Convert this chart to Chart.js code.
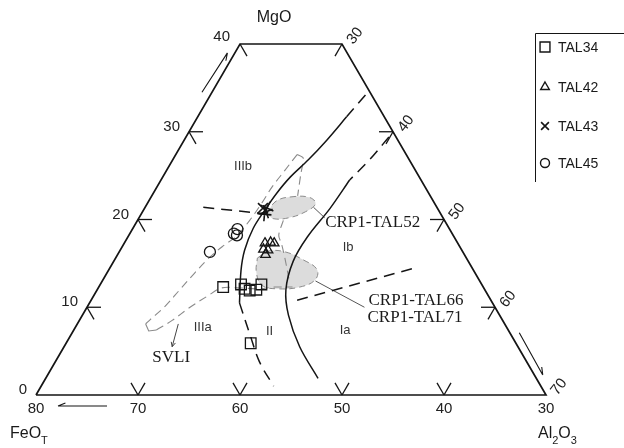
<!DOCTYPE html>
<html>
<head>
<meta charset="utf-8">
<script src="https://cdn.jsdelivr.net/npm/chart.js@4/dist/chart.umd.min.js"></script>
<style>
  html, body { margin: 0; padding: 0; background: #fff; }
  canvas { display: block; }
</style>
</head>
<body>
<canvas id="c" width="624" height="448"></canvas>
<script>
// Compositions are [FeOT, MgO, Al2O3] (wt%, normalised to 100 before plotting)

// Samples
const TAL34 = [[55.5, 12.3, 32.2], [53.6, 12.6, 33.8], [53.5, 12.1, 34.4], [53.1, 11.9, 35.0],
               [52.4, 12.0, 35.6], [51.6, 12.6, 35.8], [56.0, 5.9, 38.1]];
const TAL42 = [[48.9, 17.3, 33.8], [48.3, 17.4, 34.3], [48.0, 17.3, 34.7], [49.4, 16.6, 34.0],
               [49.0, 16.5, 34.5], [49.5, 16.0, 34.5]];
const TAL43 = [[47.1, 21.3, 31.6], [47.0, 20.9, 32.1], [47.3, 20.6, 32.1], [46.7, 21.3, 32.0]];
const TAL45 = [[50.8, 18.9, 30.3], [51.4, 18.4, 30.2], [51.2, 18.2, 30.6], [54.8, 16.3, 28.9]];

// Diagram frame (MgO 0-40, Al2O3 >= 20, FeOT >= 30)
const frame = [[80, 0, 20], [30, 0, 70], [30, 40, 30], [40, 40, 20], [80, 0, 20]];

// Axis tick values
const mgoTicks = [0, 10, 20, 30, 40];
const feoTicks = [80, 70, 60, 50, 40, 30];
const alTicks = [30, 40, 50, 60, 70];

// Field boundaries (solid and dashed black)
const boundaryAUpper = [[30.6, 34.2, 35.2], [33.7, 31.7, 34.6]];
const boundaryA = [[33.7, 31.7, 34.6], [36.9, 29.1, 34.0], [39.9, 26.8, 33.3], [42.7, 24.8, 32.5],
                   [44.9, 23.0, 32.1], [47.0, 21.1, 31.9], [49.2, 19.0, 31.8], [51.3, 16.5, 32.2],
                   [52.8, 14.2, 33.0], [54.8, 10.5, 34.7]];
const boundaryII = [[54.8, 10.5, 34.7], [55.6, 6.8, 37.6], [56.2, 3.8, 40.0], [56.2, 1.0, 42.8]];
const boundaryBUpper = [[30.7, 29.4, 39.9], [33.9, 26.8, 39.3], [37.0, 24.5, 38.5]];
const boundaryB = [[37.0, 24.5, 38.5], [40.5, 21.3, 38.2], [44.4, 18.0, 37.6], [47.2, 15.2, 37.6],
                   [49.5, 12.0, 38.5], [50.7, 9.1, 40.2], [51.4, 5.5, 43.1], [51.4, 1.9, 46.7]];
const boundaryIIIb = [[52.9, 21.4, 25.7], [46.9, 20.6, 32.5]];
const boundaryIab = [[49.0, 10.8, 40.2], [35.9, 14.4, 49.7]];

// SVLI and related fields (grey dashed)
const svliUpper = [[40.7, 27.4, 31.9], [42.8, 25.6, 31.6], [44.9, 23.8, 31.3], [46.9, 21.9, 31.2],
                   [49.1, 19.9, 31.0], [51.3, 18.1, 30.6], [53.3, 16.9, 29.8], [55.4, 15.5, 29.1],
                   [57.5, 13.9, 28.6], [59.9, 12.0, 28.1], [62.3, 10.1, 27.6], [64.5, 8.6, 26.9],
                   [65.2, 8.1, 26.7]];
const svliHook = [[65.2, 8.1, 26.7], [65.3, 7.3, 27.4], [64.5, 7.4, 28.1]];
const svliLower = [[64.5, 7.4, 28.1], [62.4, 8.5, 29.1], [59.9, 10.0, 30.1], [57.5, 11.3, 31.2],
                   [55.7, 12.2, 32.1], [53.9, 12.2, 33.9], [52.2, 12.1, 35.7], [50.4, 12.3, 37.3],
                   [48.7, 12.3, 39.0]];
const bracketIIIb = [[40.7, 27.4, 31.9], [40.3, 27.0, 32.7], [41.5, 25.1, 33.4], [43.0, 22.7, 34.3]];
const divideII = [[45.8, 19.9, 34.3], [47.1, 18.2, 34.7], [47.3, 17.3, 35.4], [47.8, 15.6, 36.6],
                  [48.7, 12.9, 38.4]];

// Reference compositions (shaded)
const fieldTAL52 = [[47.0, 20.7, 32.3], [45.4, 22.1, 32.5], [43.5, 22.6, 33.9], [41.9, 22.5, 35.6],
                    [41.7, 21.8, 36.5], [43.1, 20.9, 36.0], [45.1, 20.2, 34.7], [46.7, 20.1, 33.2],
                    [47.0, 20.7, 32.3]];
const fieldTAL66 = [[50.5, 15.6, 33.9], [49.0, 16.4, 34.6], [47.4, 16.3, 36.3], [46.1, 15.4, 38.5],
                    [45.3, 14.3, 40.4], [46.1, 13.1, 40.8], [48.0, 12.3, 39.7], [50.2, 12.1, 37.7],
                    [51.6, 12.5, 35.9], [51.4, 14.0, 34.6], [50.5, 15.6, 33.9]];
const leader52 = [[42.1, 21.4, 36.5], [41.6, 20.2, 38.2]];
const leader66 = [[46.1, 13.0, 40.9], [42.8, 10.0, 47.2]];
const svliArrow = [[62.0, 8.1, 29.9], [63.9, 5.5, 30.6]];

// ternary -> cartesian (x along the FeOT-Al2O3 base, y up towards MgO)
const SQ3 = Math.sqrt(3) / 2;
function tern(c) {
  const s = c[0] + c[1] + c[2];
  const mg = c[1] * 100 / s, al = c[2] * 100 / s;
  return { x: al + mg / 2, y: mg * SQ3 };
}

const INK = '#151515';
const GREY = '#8a8a8a';

function path(pts, o) {
  return Object.assign({
    data: pts.map(tern), showLine: true, pointRadius: 0, pointHoverRadius: 0,
    borderColor: INK, borderWidth: 1.5, tension: 0.35, fill: false, clip: false, order: 5
  }, o);
}
function samples(label, pts, o) {
  return Object.assign({
    label, data: pts.map(tern), showLine: false, borderColor: INK,
    backgroundColor: 'rgba(0,0,0,0)', pointBorderWidth: 1.3, clip: false, order: 0
  }, o);
}

const FONT_SANS = '"Liberation Sans", Arial, sans-serif';
const FONT_SERIF = '"Liberation Serif", "Times New Roman", serif';

const fieldLabels = [
  { t: 'IIIb', c: [46.7, 26.0, 27.3] },
  { t: 'Ib', c: [41.0, 16.8, 42.2] },
  { t: 'IIIa', c: [59.8, 7.7, 32.5] },
  { t: 'II', c: [53.5, 7.2, 39.3] },
  { t: 'Ia', c: [46.0, 7.4, 46.6] }
];
const refLabels = [
  { t: 'SVLI', c: [64.6, 4.3, 31.1], align: 'center' },
  { t: 'CRP1-TAL52', c: [41.8, 19.7, 38.5], align: 'left' },
  { t: 'CRP1-TAL66', c: [42.0, 10.8, 47.2], align: 'left' },
  { t: 'CRP1-TAL71', c: [43.1, 8.8, 48.1], align: 'left' }
];

function halfArrow(ctx, x1, y1, x2, y2, side, len) {
  const a = Math.atan2(y2 - y1, x2 - x1) + Math.PI;
  ctx.beginPath();
  ctx.moveTo(x1, y1); ctx.lineTo(x2, y2);
  ctx.moveTo(x2, y2);
  ctx.lineTo(x2 + len * Math.cos(a + side * 0.38), y2 + len * Math.sin(a + side * 0.38));
  ctx.stroke();
}

function marker(ctx, style, x, y, r) {
  ctx.beginPath();
  if (style === 'rect') {
    const h = r * Math.SQRT1_2; ctx.rect(x - h, y - h, 2 * h, 2 * h);
  } else if (style === 'triangle') {
    ctx.moveTo(x, y - r); ctx.lineTo(x + r * SQ3, y + r / 2); ctx.lineTo(x - r * SQ3, y + r / 2); ctx.closePath();
  } else if (style === 'circle') {
    ctx.arc(x, y, r, 0, Math.PI * 2);
  } else {
    const h = r * Math.SQRT1_2;
    ctx.moveTo(x - h, y - h); ctx.lineTo(x + h, y + h);
    ctx.moveTo(x + h, y - h); ctx.lineTo(x - h, y + h);
  }
  ctx.stroke();
}

const decor = {
  id: 'decor',
  afterDatasetsDraw(chart) {
    const { ctx, scales: { x, y } } = chart;
    const P = c => { const t = tern(c); return [x.getPixelForValue(t.x), y.getPixelForValue(t.y)]; };
    ctx.save();
    ctx.strokeStyle = INK;
    ctx.lineWidth = 1.3;
    const arm = 14;
    const seg = (p, dx, dy) => {
      ctx.beginPath(); ctx.moveTo(p[0], p[1]); ctx.lineTo(p[0] + dx * arm, p[1] + dy * arm); ctx.stroke();
    };

    // tick marks
    mgoTicks.forEach(m => {
      const p = P([80 - m, m, 20]);
      if (m === 0) return;
      if (m < 40) seg(p, 1, 0);
      seg(p, 0.5, SQ3);
    });
    feoTicks.forEach(f => {
      if (f === 80 || f === 30) return;
      const p = P([f, 0, 100 - f]);
      seg(p, -0.5, -SQ3); seg(p, 0.5, -SQ3);
    });
    alTicks.forEach(a => {
      const p = P([30, 70 - a, a]);
      if (a === 70) return;
      if (a > 30) seg(p, -1, 0);
      seg(p, -0.5, SQ3);
    });

    // tick labels
    ctx.fillStyle = '#222';
    ctx.font = '15px ' + FONT_SANS;
    ctx.textAlign = 'right'; ctx.textBaseline = 'middle';
    mgoTicks.forEach(m => {
      const p = P([80 - m, m, 20]);
      if (m === 40) ctx.fillText(String(m), p[0] - 10, p[1] - 7);
      else ctx.fillText(String(m), p[0] - 9, p[1] - 5);
    });
    ctx.textAlign = 'center'; ctx.textBaseline = 'top';
    feoTicks.forEach(f => {
      const p = P([f, 0, 100 - f]);
      ctx.fillText(String(f), p[0], p[1] + 6);
    });
    ctx.textBaseline = 'middle';
    alTicks.forEach(a => {
      const p = P([30, 70 - a, a]);
      ctx.save();
      ctx.translate(p[0] + 13, p[1] - 8);
      ctx.rotate(-52 * Math.PI / 180);
      ctx.fillText(String(a), 0, 0);
      ctx.restore();
    });

    // axis titles
    ctx.fillStyle = '#1a1a1a';
    ctx.font = '16px ' + FONT_SANS;
    const tl = P([40, 40, 20]);
    ctx.textAlign = 'center'; ctx.textBaseline = 'middle';
    ctx.fillText('MgO', tl[0] + 34, tl[1] - 26);
    ctx.textAlign = 'left'; ctx.textBaseline = 'alphabetic';
    ctx.fillText('FeO', 10, 438);
    const w = ctx.measureText('FeO').width;
    ctx.font = '11px ' + FONT_SANS;
    ctx.fillText('T', 10 + w, 444);
    let xx = 538;
    [['Al', 0], ['2', 1], ['O', 0], ['3', 1]].forEach(([s, sub]) => {
      ctx.font = (sub ? '11px ' : '16px ') + FONT_SANS;
      ctx.fillText(s, xx, sub ? 444 : 438);
      xx += ctx.measureText(s).width;
    });

    // direction arrows along the axes
    ctx.lineWidth = 1.1;
    const la = P([45.5, 34.5, 20]), lb = P([40.9, 39.1, 20]);
    halfArrow(ctx, la[0] - 10, la[1], lb[0] - 8, lb[1] + 1, -1, 8);
    const b0 = P([80, 0, 20]);
    halfArrow(ctx, b0[0] + 71, b0[1] + 11, b0[0] + 22, b0[1] + 11, -1, 8);
    const ra = P([30, 7.2, 62.8]), rb = P([30, 2.4, 67.6]);
    halfArrow(ctx, ra[0] + 10, ra[1] + 1, rb[0] + 9, rb[1] + 1, 1, 8);

    // SVLI arrow
    const s0 = P(svliArrow[0]), s1 = P(svliArrow[1]);
    ctx.strokeStyle = '#444'; ctx.lineWidth = 1;
    ctx.beginPath(); ctx.moveTo(s0[0], s0[1]); ctx.lineTo(s1[0], s1[1]); ctx.stroke();
    const ang = Math.atan2(s1[1] - s0[1], s1[0] - s0[0]) + Math.PI;
    ctx.beginPath();
    ctx.moveTo(s1[0] + 5 * Math.cos(ang - 0.45), s1[1] + 5 * Math.sin(ang - 0.45));
    ctx.lineTo(s1[0], s1[1]);
    ctx.lineTo(s1[0] + 5 * Math.cos(ang + 0.45), s1[1] + 5 * Math.sin(ang + 0.45));
    ctx.stroke();

    // field names
    ctx.fillStyle = '#333';
    ctx.font = '13px ' + FONT_SANS;
    ctx.textAlign = 'center'; ctx.textBaseline = 'middle';
    fieldLabels.forEach(l => { const p = P(l.c); ctx.fillText(l.t, p[0], p[1]); });
    ctx.fillStyle = '#1a1a1a';
    ctx.font = '17px ' + FONT_SERIF;
    refLabels.forEach(l => { const p = P(l.c); ctx.textAlign = l.align; ctx.fillText(l.t, p[0], p[1]); });

    // legend
    ctx.strokeStyle = INK; ctx.lineWidth = 1;
    ctx.beginPath();
    ctx.moveTo(535.5, 182); ctx.lineTo(535.5, 33.5); ctx.lineTo(624, 33.5);
    ctx.stroke();
    const items = [['TAL34', 'rect', 7], ['TAL42', 'triangle', 5], ['TAL43', 'cross', 5.5], ['TAL45', 'circle', 4.5]];
    const rows = [47, 87, 126, 163];
    ctx.font = '14px ' + FONT_SANS; ctx.fillStyle = '#1a1a1a';
    ctx.textAlign = 'left'; ctx.textBaseline = 'middle';
    items.forEach((it, i) => {
      ctx.lineWidth = it[1] === 'cross' ? 1.6 : 1.4;
      marker(ctx, it[1], 545, rows[i], it[2]);
      ctx.fillText(it[0], 558, rows[i] + 1);
    });
    ctx.restore();
  }
};

new Chart(document.getElementById('c'), {
  type: 'scatter',
  data: {
    datasets: [
      samples('TAL34', TAL34, { pointStyle: 'rect', pointRadius: 7.5 }),
      samples('TAL42', TAL42, { pointStyle: 'triangle', pointRadius: 5.5 }),
      samples('TAL43', TAL43, { pointStyle: 'crossRot', pointRadius: 7, pointBorderWidth: 1.6,
                                pointRotation: [0, 25, 50, 70] }),
      samples('TAL45', TAL45, { pointStyle: 'circle', pointRadius: 5.5 }),

      path(frame, { tension: 0, borderWidth: 1.7 }),
      path(boundaryAUpper, { tension: 0, borderDash: [11, 7] }),
      path(boundaryA, {}),
      path(boundaryII, { borderDash: [11, 7] }),
      path(boundaryBUpper, { borderDash: [11, 7] }),
      path(boundaryB, {}),
      path(boundaryIIIb, { tension: 0, borderDash: [11, 7] }),
      path(boundaryIab, { tension: 0, borderDash: [11, 7] }),

      path(svliUpper, { borderColor: GREY, borderWidth: 1.1, borderDash: [8, 5] }),
      path(svliHook, { tension: 0, borderColor: GREY, borderWidth: 1.1 }),
      path(svliLower, { borderColor: GREY, borderWidth: 1.1, borderDash: [8, 5] }),
      path(bracketIIIb, { tension: 0.2, borderColor: GREY, borderWidth: 1.1, borderDash: [8, 5] }),
      path(divideII, { borderColor: GREY, borderWidth: 1.1, borderDash: [8, 5] }),
      path(leader52, { tension: 0, borderColor: '#555', borderWidth: 1 }),
      path(leader66, { tension: 0, borderColor: '#555', borderWidth: 1 }),

      path(fieldTAL52, { fill: 'shape', backgroundColor: '#dcdcdc', borderColor: GREY, borderWidth: 1,
                         borderDash: [6, 4], tension: 0.4, order: 9 }),
      path(fieldTAL66, { fill: 'shape', backgroundColor: '#dcdcdc', borderColor: GREY, borderWidth: 1,
                         borderDash: [6, 4], tension: 0.4, order: 9 })
    ]
  },
  options: {
    responsive: false,
    animation: false,
    devicePixelRatio: 1,
    events: [],
    layout: { padding: { left: 36, right: 78, top: 44, bottom: 53 } },
    scales: {
      x: { type: 'linear', min: 20, max: 70, display: false },
      y: { type: 'linear', min: 0, max: 40 * SQ3, display: false }
    },
    plugins: { legend: { display: false }, tooltip: { enabled: false } }
  },
  plugins: [decor]
});
</script>
</body>
</html>
